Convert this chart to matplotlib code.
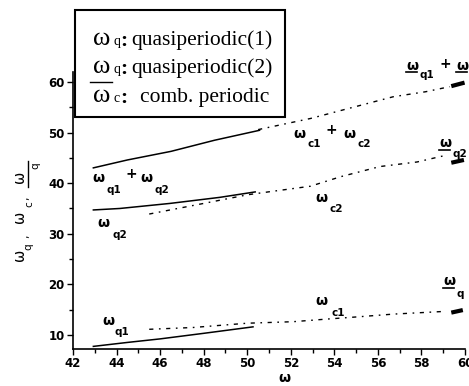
import matplotlib
matplotlib.use("Agg")
import matplotlib.pyplot as plt
import matplotlib.transforms as mtransforms
from matplotlib.lines import Line2D
from matplotlib.patches import Rectangle
from matplotlib.ticker import MultipleLocator

plt.rcParams['mathtext.fontset'] = 'custom'
plt.rcParams['mathtext.rm'] = 'DejaVu Sans:bold'
plt.rcParams['mathtext.it'] = 'DejaVu Sans:bold'
plt.rcParams['mathtext.bf'] = 'DejaVu Sans:bold'

# ---- data ----
q_sum_x = [42.9, 44.5, 46.5, 48.5, 50.6]
q_sum_y = [43.0, 44.6, 46.3, 48.5, 50.5]
c_sum_x = [50.5, 52.9, 53.7, 54.4, 56.7, 58.2, 59.3]
c_sum_y = [50.6, 52.8, 53.7, 54.5, 57.1, 58.1, 59.1]
qb_sum_x = [59.37, 59.98]
qb_sum_y = [59.2, 59.9]

q2_x = [42.9, 44.15, 46.45, 48.74, 50.1, 50.4]
q2_y = [34.7, 35.0, 36.0, 37.2, 38.1, 38.3]
c2_x = [45.5, 48.0, 50.0, 51.0, 52.9, 54.3, 56.1, 57.8, 59.0]
c2_y = [33.9, 36.0, 37.7, 38.3, 39.4, 41.3, 43.3, 44.2, 45.4]
qb2_x = [59.37, 59.95]
qb2_y = [44.05, 44.6]

q1_x = [42.9, 44.5, 46.0, 48.0, 50.3]
q1_y = [7.7, 8.5, 9.2, 10.3, 11.6]
c1_x = [45.5, 47.5, 50.0, 52.1, 53.6, 55.2, 56.7, 58.9]
c1_y = [11.1, 11.45, 12.3, 12.6, 13.1, 13.6, 14.1, 14.6]
qb1_x = [59.37, 59.9]
qb1_y = [14.4, 14.9]

xticks = [42, 44, 46, 48, 50, 52, 54, 56, 58, 60]
yticks = [10, 20, 30, 40, 50, 60]

W, H = 469, 386
fig = plt.figure(figsize=(W / 100, H / 100), dpi=100)
ax = fig.add_axes([73 / W, 1 - 349 / H, 392 / W, 277 / H])

solid = dict(color='black', lw=1.1, solid_capstyle='butt')
dashd = dict(color='black', lw=1.0, dashes=(3, 4, 1.2, 4))
thick = dict(color='black', lw=3.0, solid_capstyle='butt')

ax.plot(q_sum_x, q_sum_y, **solid)
ax.plot(c_sum_x, c_sum_y, **dashd)
ax.plot(qb_sum_x, qb_sum_y, **thick)
ax.plot(q2_x, q2_y, **solid)
ax.plot(c2_x, c2_y, **dashd)
ax.plot(qb2_x, qb2_y, **thick)
ax.plot(q1_x, q1_y, **solid)
ax.plot(c1_x, c1_y, **dashd)
ax.plot(qb1_x, qb1_y, **thick)

ax.set_xlim(42, 60)
ax.set_ylim(7.2, 62)
ax.set_xticks(xticks)
ax.set_yticks(yticks)
ax.xaxis.set_minor_locator(MultipleLocator(1))
ax.yaxis.set_minor_locator(MultipleLocator(5))
for s in ['top', 'right']:
    ax.spines[s].set_visible(False)
for s in ['left', 'bottom']:
    ax.spines[s].set_linewidth(1.2)
ax.tick_params(which='major', direction='out', length=4, width=1, pad=2)
ax.tick_params(which='minor', direction='out', length=3, width=1)
for lab in ax.get_xticklabels() + ax.get_yticklabels():
    lab.set_fontfamily('DejaVu Sans')
    lab.set_fontweight('bold')
    lab.set_fontsize(8.5)

ax.set_xlabel(r'$\omega$', fontsize=10)
ax.xaxis.set_label_coords((285 - 73) / 392, (349 - 371) / 277)

# y-axis label, built from rotated pieces: omega_q, omega_c, underlined omega_q
ylab = [('ω', 19, 255, 10.5), ('q', 28.5, 246.5, 7.5), (',', 25, 236, 8),
        ('ω', 19, 217, 10.5), ('c', 29.5, 204.5, 7.5), (',', 25, 198, 8),
        ('ω', 19, 177, 10.5), ('q', 35, 166, 7.5)]
for s, px, py, fs in ylab:
    fig.text(px / W, 1 - py / H, s, rotation=90, ha='center', va='center',
             fontsize=fs, fontfamily='DejaVu Sans')
fig.add_artist(Line2D([28 / W, 28 / W], [1 - 187 / H, 1 - 161 / H],
                      transform=fig.transFigure, color='black', lw=1.0))


def wlabel(x, y, parts, bars=()):
    for s, dx, dy, fs in parts:
        ax.annotate(s, (x, y), xytext=(dx, dy), textcoords='offset pixels',
                    fontsize=fs, ha='left', va='baseline', annotation_clip=False,
                    fontfamily='DejaVu Sans', fontweight='bold')
    for x0, x1, dy in bars:
        tr = mtransforms.ScaledTranslation(x, y, ax.transData)
        ax.add_line(Line2D([x0, x1], [dy, dy], transform=tr, color='black',
                           lw=1.2, clip_on=False))


W_ = r'$\omega$'
SZ, SS = 10, 7.5
wlabel(42.87, 40.24, [(W_, 0, 0, SZ), ('q1', 15, -11, SS), ('+', 34, 4, SZ),
                      (W_, 48, 0, SZ), ('q2', 63, -11, SS)])
wlabel(43.1, 31.34, [(W_, 0, 0, SZ), ('q2', 16, -11, SS)])
wlabel(52.09, 48.93, [(W_, 0, 0, SZ), ('c1', 15, -9, SS), ('+', 33, 4, SZ),
                      (W_, 50, 0, SZ), ('c2', 65, -9, SS)])
wlabel(53.1, 36.28, [(W_, 0, 0, SZ), ('c2', 15, -10, SS)])
wlabel(57.3, 62.37, [(W_, 0, 0, SZ), ('q1', 13, -8, SS), ('+', 33, 2, SZ),
                     (W_, 50, 0, SZ)],
       bars=[(0, 11, -1.5), (50, 61, -1.5)])
wlabel(58.8, 47.16, [(W_, 0, 0, SZ), ('q2', 14, -10, SS)], bars=[(0, 11, -2.5)])
wlabel(53.1, 15.93, [(W_, 0, 0, SZ), ('c1', 17, -11, SS)])
wlabel(43.33, 11.98, [(W_, 0, 0, SZ), ('q1', 13, -10, SS)])
wlabel(58.97, 19.9, [(W_, 0, 0, SZ), ('q', 14, -12, SS)], bars=[(0, 11, -3.5)])

# legend box
fig.add_artist(Rectangle((75 / W, 1 - 117 / H), 210 / W, 107 / H,
                         transform=fig.transFigure, fill=False, lw=1.5,
                         edgecolor='black'))
legend_rows = [('q', 'quasiperiodic(1)', 45, 131),
               ('q', 'quasiperiodic(2)', 73, 131),
               ('c', 'comb. periodic', 102, 140)]
for sub, txt, base, tx in legend_rows:
    fig.text(93 / W, 1 - base / H, 'ω', fontsize=19, fontfamily='Liberation Serif',
             ha='left', va='baseline')
    fig.text(113 / W, 1 - base / H, sub, fontsize=10, fontfamily='Liberation Serif',
             ha='left', va='baseline')
    fig.text(120 / W, 1 - (base + 1) / H, ':', fontsize=15.5, fontfamily='Liberation Serif',
             ha='left', va='baseline', fontweight='bold')
    fig.text(tx / W, 1 - base / H, txt, fontsize=15.5, fontfamily='Liberation Serif',
             ha='left', va='baseline')
fig.add_artist(Line2D([90 / W, 112 / W], [1 - 82 / H, 1 - 82 / H],
                      transform=fig.transFigure, color='black', lw=1.0))

fig.savefig('out.png', dpi=100)
